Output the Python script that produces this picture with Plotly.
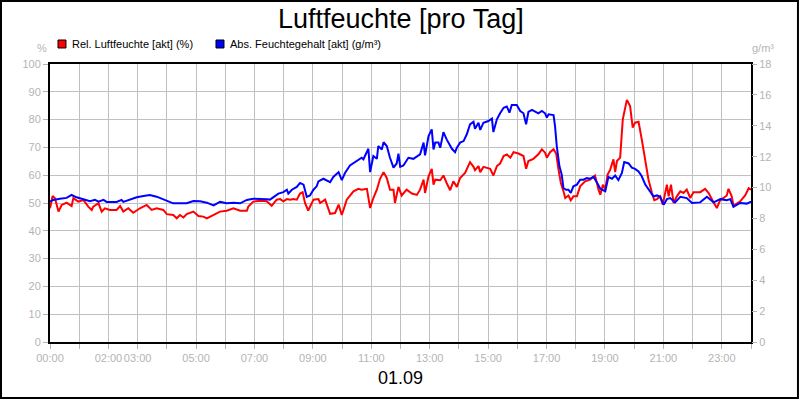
import plotly.graph_objects as go

# Rel. Luftfeuchte (%) - Stunden / Werte
rel_hours = [
    0.00, 0.09, 0.17, 0.29, 0.40, 0.57, 0.74, 0.80, 0.97, 1.14, 1.31, 1.43, 1.48, 1.66, 1.77, 1.88,
    2.05, 2.28, 2.40, 2.51, 2.68, 2.85, 3.08, 3.31, 3.48, 3.65, 3.88, 4.00, 4.22, 4.34, 4.45, 4.57,
    4.68, 4.91, 5.08, 5.25, 5.37, 5.60, 5.82, 6.05, 6.28, 6.51, 6.74, 6.79, 6.96, 7.19, 7.42, 7.59,
    7.76, 7.88, 7.99, 8.11, 8.22, 8.33, 8.45, 8.56, 8.65, 8.73, 8.84, 9.02, 9.19, 9.25, 9.42, 9.59,
    9.76, 9.88, 9.99, 10.16, 10.39, 10.56, 10.67, 10.85, 10.96, 11.07, 11.19, 11.30, 11.42, 11.53,
    11.64, 11.76, 11.81, 11.93, 12.04, 12.21, 12.39, 12.56, 12.67, 12.79, 12.84, 12.96, 13.07, 13.13,
    13.19, 13.36, 13.47, 13.58, 13.70, 13.81, 13.93, 14.04, 14.21, 14.38, 14.50, 14.55, 14.67, 14.73,
    14.84, 15.07, 15.18, 15.30, 15.41, 15.53, 15.64, 15.76, 15.87, 16.04, 16.21, 16.30, 16.38, 16.55,
    16.72, 16.84, 16.95, 17.01, 17.12, 17.24, 17.33, 17.41, 17.49, 17.58, 17.64, 17.75, 17.83, 17.92,
    18.04, 18.15, 18.32, 18.49, 18.66, 18.78, 18.84, 18.93, 19.01, 19.09, 19.18, 19.29, 19.35, 19.41,
    19.52, 19.61, 19.75, 19.86, 19.95, 20.03, 20.15, 20.26, 20.38, 20.49, 20.61, 20.69, 20.78, 20.89,
    20.98, 21.06, 21.12, 21.18, 21.26, 21.35, 21.46, 21.58, 21.69, 21.80, 21.92, 22.03, 22.26, 22.43,
    22.55, 22.72, 22.83, 22.95, 23.06, 23.17, 23.23, 23.34, 23.40, 23.63, 23.80, 23.92, 24.00,
]
rel_values = [
    48.1, 52.5, 51.7, 46.9, 49.3, 50.1, 48.9, 51.7, 50.5, 51.1, 48.7, 47.5, 48.7, 49.9, 46.9, 48.1,
    47.5, 47.5, 48.9, 46.9, 48.1, 46.5, 48.1, 49.3, 47.5, 48.1, 47.5, 46.0, 45.7, 44.5, 45.7, 44.8,
    46.0, 46.9, 45.3, 45.1, 44.5, 45.7, 46.9, 47.2, 48.1, 47.2, 47.2, 48.7, 50.5, 50.8, 50.6, 49.0,
    51.2, 51.4, 50.6, 51.4, 51.2, 51.4, 51.2, 53.4, 53.9, 50.0, 47.3, 51.2, 51.4, 50.0, 51.2, 46.1,
    46.4, 49.4, 45.7, 51.2, 54.2, 55.1, 54.8, 55.1, 48.2, 51.8, 54.8, 58.7, 61.1, 59.0,
    54.8, 54.8, 50.0, 55.8, 52.7, 54.8, 53.4, 52.9, 54.8, 58.4, 53.6, 59.6, 62.3, 56.6,
    58.4, 58.2, 59.9, 57.2, 54.6, 57.8, 55.8, 59.0, 60.8, 64.7, 63.0, 61.8, 63.3, 61.1,
    63.0, 62.3, 59.9, 63.3, 64.2, 66.9, 67.5, 66.3, 68.3, 67.8, 66.9, 62.3, 65.1, 65.9,
    67.5, 69.3, 68.1, 66.3, 68.3, 69.3, 67.8, 62.0, 57.2, 54.2, 51.8, 52.7, 51.0, 52.4,
    52.4, 56.0, 57.8, 58.4, 59.9, 54.8, 53.0, 56.6, 54.8, 60.2, 62.0, 65.7, 61.1, 65.1,
    66.3, 80.1, 87.1, 84.9, 77.1, 78.9, 79.2, 72.9, 64.5, 58.4, 53.6, 51.0, 51.4, 52.4,
    49.4, 54.2, 56.6, 52.4, 56.6, 50.0, 52.4, 54.2, 53.6, 54.8, 51.8, 53.9, 53.9, 55.1,
    53.6, 50.2, 48.2, 51.2, 51.8, 52.7, 55.1, 52.4, 49.0, 50.6, 52.7, 55.3, 54.8,
]

# Abs. Feuchtegehalt (g/m³) - Stunden / Werte
abs_hours = [
    0.00, 0.11, 0.34, 0.57, 0.74, 0.91, 1.14, 1.37, 1.54, 1.66, 1.83, 1.94, 2.28, 2.45, 2.51, 2.74,
    2.97, 3.20, 3.42, 3.65, 3.88, 4.00, 4.22, 4.68, 4.91, 5.14, 5.37, 5.60, 5.82, 6.05, 6.28, 6.51,
    6.74, 6.96, 7.19, 7.42, 7.53, 7.65, 7.82, 7.99, 8.11, 8.16, 8.28, 8.45, 8.56, 8.68, 8.79, 8.90,
    9.02, 9.13, 9.19, 9.36, 9.47, 9.59, 9.70, 9.88, 9.99, 10.10, 10.27, 10.50, 10.67, 10.73, 10.90,
    10.96, 11.07, 11.19, 11.24, 11.36, 11.42, 11.53, 11.64, 11.76, 11.87, 11.93, 11.99, 12.10, 12.27,
    12.44, 12.67, 12.79, 12.84, 12.96, 13.07, 13.13, 13.19, 13.30, 13.36, 13.47, 13.58, 13.76, 13.87,
    13.93, 14.04, 14.16, 14.27, 14.38, 14.50, 14.55, 14.67, 14.73, 14.84, 15.01, 15.13, 15.18, 15.30,
    15.41, 15.53, 15.64, 15.73, 15.81, 15.98, 16.10, 16.21, 16.30, 16.38, 16.50, 16.61, 16.72, 16.84,
    16.95, 17.01, 17.07, 17.24, 17.29, 17.35, 17.44, 17.52, 17.58, 17.67, 17.75, 17.83, 17.92, 18.04,
    18.15, 18.26, 18.38, 18.49, 18.61, 18.72, 18.84, 19.01, 19.12, 19.24, 19.35, 19.46, 19.58, 19.66,
    19.81, 19.92, 20.03, 20.15, 20.26, 20.38, 20.55, 20.66, 20.78, 20.89, 21.01, 21.12, 21.23, 21.40,
    21.58, 21.80, 21.98, 22.26, 22.49, 22.72, 22.95, 23.17, 23.29, 23.40, 23.63, 23.86, 24.00,
]
abs_values = [
    9.09, 9.20, 9.28, 9.33, 9.52, 9.37, 9.24, 9.11, 9.20, 9.09, 9.20, 9.07, 9.07, 9.20, 9.07, 9.24,
    9.37, 9.46, 9.52, 9.41, 9.24, 9.15, 8.98, 8.98, 9.13, 9.11, 9.02, 8.85, 9.07, 8.98, 9.02, 8.98,
    9.20, 9.28, 9.28, 9.24, 9.22, 9.40, 9.61, 9.70, 9.86, 9.61, 9.86, 10.04, 10.30, 10.19, 9.40, 9.49,
    9.86, 10.08, 10.40, 10.57, 10.48, 10.35, 10.69, 11.00, 10.48, 10.94, 11.43, 11.72, 11.93, 11.83, 12.51,
    11.00, 12.04, 11.86, 12.69, 12.47, 12.94, 12.69, 11.93, 11.29, 11.56, 12.20, 11.34, 11.43, 11.93,
    11.86, 12.15, 12.91, 12.08, 13.34, 13.77, 12.47, 12.91, 12.91, 12.58, 13.59, 13.12, 12.51, 12.29,
    12.58, 12.91, 13.01, 13.45, 14.09, 14.26, 13.81, 14.20, 13.73, 14.20, 14.31, 14.47, 13.59, 14.42,
    14.81, 15.17, 15.25, 14.85, 15.34, 15.34, 14.96, 14.81, 14.09, 14.90, 15.03, 14.90, 14.81, 14.96,
    14.81, 14.53, 14.74, 14.69, 13.99, 12.69, 11.39, 10.84, 9.97, 9.86, 9.86, 9.65, 10.08, 10.19,
    10.51, 10.51, 10.62, 10.57, 10.69, 10.35, 9.92, 9.76, 10.69, 10.57, 10.78, 10.48, 10.94, 11.65,
    11.56, 11.29, 11.21, 11.05, 10.73, 10.19, 9.76, 9.43, 9.49, 9.40, 8.89, 9.25, 9.32, 9.04,
    9.40, 9.32, 9.00, 9.04, 9.40, 9.04, 9.25, 9.18, 9.25, 8.75, 9.00, 8.96, 9.09,
]

hour_ticks = list(range(25))
hour_labels = ["00:00", "", "02:00", "03:00", "", "05:00", "", "07:00", "", "09:00", "", "11:00", "",
               "13:00", "", "15:00", "", "17:00", "", "19:00", "", "21:00", "", "23:00", ""]
left_ticks = [0, 10, 20, 30, 40, 50, 60, 70, 80, 90, 100]
right_ticks = [0, 2, 4, 6, 8, 10, 12, 14, 16, 18]

FONT = "Liberation Sans, Arial, sans-serif"
GRAY = "#b4b4b4"

fig = go.Figure()
fig.add_trace(go.Scatter(x=rel_hours, y=rel_values, mode="lines",
                         line=dict(color="#ff0000", width=2), showlegend=False))
fig.add_trace(go.Scatter(x=abs_hours, y=abs_values, mode="lines", yaxis="y2",
                         line=dict(color="#0000ff", width=2), showlegend=False))

fig.update_layout(
    width=800, height=400,
    margin=dict(l=50, r=49, t=64, b=58, autoexpand=False),
    paper_bgcolor="white", plot_bgcolor="white",
    font=dict(family=FONT, size=11, color=GRAY),
    xaxis=dict(range=[0, 24], tickvals=hour_ticks, ticktext=hour_labels, tickangle=0,
               automargin=False,
               showgrid=True, gridcolor="#c0c0c0", gridwidth=1,
               ticks="outside", ticklen=5, tickcolor=GRAY,
               showline=True, linecolor="black", linewidth=2, mirror=True,
               zeroline=False, tickfont=dict(size=11, color=GRAY)),
    yaxis=dict(range=[0, 100], tickvals=left_ticks, automargin=False,
               showgrid=True, gridcolor="#c0c0c0", gridwidth=1,
               ticks="outside", ticklen=5, tickcolor=GRAY,
               showline=True, linecolor="black", linewidth=2, mirror=True,
               zeroline=False, tickfont=dict(size=11, color=GRAY)),
    yaxis2=dict(range=[0, 18], tickvals=right_ticks, overlaying="y", side="right",
                automargin=False,
                showgrid=False, ticks="outside", ticklen=5, tickcolor=GRAY,
                showline=False, zeroline=False, tickfont=dict(size=11, color=GRAY)),
)

# Rahmen um das ganze Bild
fig.add_shape(type="rect", xref="paper", yref="paper",
              x0=-0.0699, x1=1.0670, y0=-0.2014, y1=1.2266,
              line=dict(color="black", width=2), layer="below")

# Legende
fig.add_shape(type="rect", xref="paper", yref="paper", x0=0.0114, x1=0.0228, y0=1.0576, y1=1.0863,
              fillcolor="#ff0000", line=dict(color="black", width=1))
fig.add_shape(type="rect", xref="paper", yref="paper", x0=0.2368, x1=0.2482, y0=1.0576, y1=1.0863,
              fillcolor="#0000ff", line=dict(color="black", width=1))

annotations = [
    dict(text="Luftfeuchte [pro Tag]", x=0.5, y=1.1619, font=dict(size=27, color="black"),
         xanchor="center", yanchor="middle"),
    dict(text="01.09", x=0.5, y=-0.1295, font=dict(size=18, color="black"),
         xanchor="center", yanchor="middle"),
    dict(text="Rel. Luftfeuchte [akt] (%)", x=0.0285, y=1.072, font=dict(size=11, color="black"),
         xanchor="left", yanchor="middle"),
    dict(text="Abs. Feuchtegehalt [akt] (g/m³)", x=0.2539, y=1.072, font=dict(size=11, color="black"),
         xanchor="left", yanchor="middle"),
    dict(text="%", x=-0.0114, y=1.0576, font=dict(size=11, color=GRAY),
         xanchor="center", yanchor="middle"),
    dict(text="g/m³", x=1.0171, y=1.0576, font=dict(size=11, color=GRAY),
         xanchor="center", yanchor="middle"),
]
for a in annotations:
    fig.add_annotation(xref="paper", yref="paper", showarrow=False, **a)

# Seitenrand des Browsers entfernen, damit das Bild genau 800x400 belegt
fig.write_html("out.html", config={"displayModeBar": False},
               post_script="document.body.style.margin='0';")
